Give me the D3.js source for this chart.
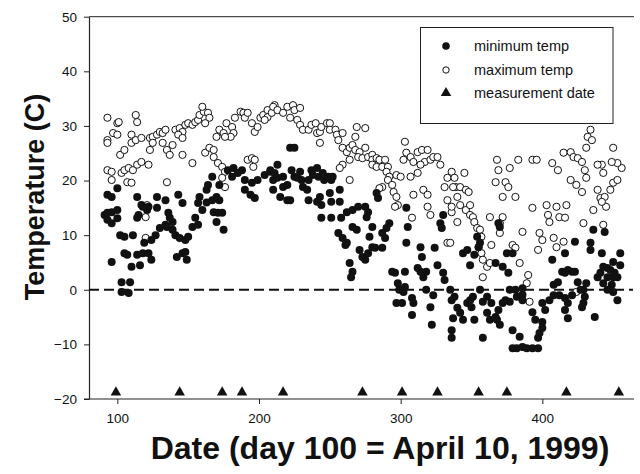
<!DOCTYPE html>
<html>
<head>
<meta charset="utf-8">
<script src="https://cdn.jsdelivr.net/npm/d3@7"></script>
<style>
  html, body { margin: 0; padding: 0; background: #fff; }
  svg { display: block; font-family: "Liberation Sans", Arial, sans-serif; }
</style>
</head>
<body>
<div id="app"></div>
<script>
// [day, temperature C]
const minTemp = [
  [93,17.4],[96,17.0],[100,18.6],[91,13.7],[93,14.1],[96,14.2],[100,14.6],[93,12.8],[96,12.2],[100,13.1],
  [96,5.1],[102,10.0],[105,9.7],[111,10.0],[103,1.4],[109,1.4],[103,-0.4],[108,-0.6],[105,6.7],[107,6.4],
  [110,4.2],[116,4.5],[114,6.4],[118,6.7],[122,6.7],[124,5.5],[114,13.2],[115,13.7],[118,15.2],[121,14.6],
  [114,17.0],[117,15.5],[119,8.6],[124,9.1],[127,10.0],[130,11.3],[134,11.9],[139,12.4],[122,15.2],[128,17.0],
  [134,16.4],[128,15.0],[136,14.1],[137,13.2],[135,11.5],[139,11.0],[141,10.0],[144,9.5],[148,9.1],[142,6.0],
  [148,6.9],[149,5.5],[146,6.7],[143,17.4],[146,15.9],[150,9.7],[153,11.5],[157,11.9],[155,13.2],[157,15.9],
  [160,14.6],[158,17.0],[163,18.3],[164,19.2],[163,16.0],[167,16.4],[170,17.0],[172,16.4],[168,14.2],[171,14.1],
  [174,14.1],[170,12.4],[175,11.0],[167,20.7],[172,19.2],[178,21.9],[182,22.3],[181,20.7],[185,21.4],[188,21.9],
  [190,20.1],[195,19.6],[199,20.1],[204,21.0],[208,21.6],[210,20.1],[190,18.3],[194,17.4],[197,16.8],
  [222,26.0],[225,26.0],[208,21.9],[213,22.9],[211,21.4],[213,20.5],[217,20.7],[210,18.3],[215,17.0],[220,16.4],
  [222,16.4],[217,18.8],[220,19.2],[223,21.9],[225,20.7],[229,21.6],[230,20.1],[231,18.8],[234,18.3],[227,20.5],
  [235,20.1],[237,21.9],[238,21.0],[241,22.3],[242,20.7],[245,21.4],[246,20.1],[249,20.7],[251,20.1],[252,20.7],
  [235,16.4],[241,16.1],[243,17.0],[244,15.5],[250,17.7],[251,16.1],[257,18.3],[244,13.2],[251,13.2],[258,13.2],
  [257,16.1],[262,14.2],[266,14.6],[270,15.2],[256,10.4],[259,9.5],[261,8.2],[262,8.6],[266,11.5],[269,11.0],
  [264,4.9],[266,3.3],[265,2.3],[271,7.3],[273,6.0],[277,6.7],[275,5.5],[275,15.2],[277,14.2],[276,13.3],
  [278,9.7],[280,7.8],[282,7.7],[280,11.5],[284,16.8],[283,17.7],[287,10.4],[289,9.5],[290,11.3],[292,12.2],
  [287,7.7],[294,3.3],[296,3.1],[298,1.2],[299,0],[302,-0.4],[303,0.5],[297,-2.4],[301,-2.4],[308,-1.5],
  [309,-2.4],[303,3.3],[304,15.0],[305,11.5],[304,8.6],[308,-4.6],[312,4.0],[314,3.3],[316,2.3],[318,3.3],
  [315,6.0],[314,7.8],[321,-3.2],[322,-6.4],[318,0],[323,-1.0],[324,7.7],[326,4.5],[330,3.1],[331,1.8],
  [330,13.7],[328,12.2],[329,11.3],[336,-1.9],[338,-1.3],[337,-5.2],[336,-7.4],[336,-8.8],[335,0],[340,-3.3],
  [342,-4.2],[344,-5.5],[347,-2.4],[349,-1.9],[351,-1.3],[352,-5.5],[350,-3.2],[344,6.7],[347,7.3],[352,6.4],
  [349,4.5],[355,7.8],[356,0],[354,9.7],[356,8.6],[358,-2.2],[361,-1.3],[364,-2.4],[361,-4.2],[363,-5.5],
  [367,-5.0],[369,-3.7],[372,-2.4],[374,-1.9],[377,-2.2],[358,-8.8],[368,-5.5],[370,-6.4],[367,4.9],[372,4.2],
  [376,3.1],[375,6.7],[379,6.7],[369,12.2],[370,11.5],[377,0],[381,0],[382,-1.3],[386,-0.9],[386,-1.9],
  [379,-7.4],[384,-8.6],[379,-10.7],[382,-10.7],[386,-10.5],[389,-10.7],[393,-10.7],[397,-10.7],[397,-8.8],[398,-7.9],
  [393,-4.1],[395,-5.5],[400,-5.9],[400,-7.0],[386,0.3],[400,-2.4],[402,-3.7],[405,-1.9],[408,-1.0],[412,-1.0],
  [416,-1.5],[418,-2.4],[421,-1.0],[416,-3.7],[418,-5.2],[407,5.5],[408,0.9],[411,1.4],[414,3.3],[416,3.1],
  [418,3.6],[421,3.3],[423,3.3],[425,1.4],[416,6.7],[423,8.8],[434,8.6],[434,7.3],[436,11.0],[444,10.6],
  [442,6.7],[446,4.0],[427,0],[429,0],[431,1.2],[430,-1.3],[429,-2.4],[428,-3.2],[437,-5.0],[439,2.3],
  [441,3.1],[443,1.2],[443,4.2],[446,2.3],[448,3.6],[450,2.3],[453,2.3],[455,4.5],[450,5.1],[451,3.1],
  [449,0.9],[446,0],[450,-0.4],[453,-1.9],[455,6.7]
];

const maxTemp = [
  [93,31.5],[100,30.5],[101,30.7],[97,28.7],[100,28.4],[93,27.4],[93,26.9],[93,21.9],[96,21.6],[96,20.1],
  [113,32.0],[114,30.7],[103,21.4],[105,21.9],[108,22.3],[111,21.9],[107,19.7],[110,19.6],[102,24.7],[105,25.6],
  [110,26.9],[110,28.4],[113,27.4],[117,27.8],[114,22.9],[117,23.4],[122,22.9],[123,27.8],[125,28.0],[128,28.4],
  [130,28.9],[132,28.7],[134,29.3],[125,26.9],[123,25.6],[135,25.6],[137,24.7],[132,26.9],[139,26.5],[135,19.7],
  [121,15.5],[120,13.3],[120,9.5],[141,29.3],[144,29.6],[146,28.9],[143,28.4],[148,30.2],[150,30.5],[153,30.2],
  [155,30.7],[157,31.1],[158,32.0],[161,32.6],[160,33.5],[164,32.4],[165,31.5],[162,30.5],[146,27.8],[146,24.7],
  [153,23.2],[162,25.1],[165,26.0],[168,25.6],[168,24.3],[171,23.2],[174,22.5],[176,21.6],[174,20.5],[176,18.8],
  [192,23.8],[195,24.1],[197,23.8],[196,22.5],[172,29.3],[175,28.7],[177,30.5],[181,29.8],[182,28.7],[180,28.0],
  [176,28.0],[170,28.0],[183,31.5],[187,32.6],[189,32.4],[190,31.5],[192,32.4],[195,30.5],[197,28.9],[199,29.8],
  [201,31.5],[203,32.0],[206,32.9],[206,31.6],[209,32.4],[211,33.8],[204,31.1],
  [210,33.5],[213,32.9],[217,32.4],[220,33.5],[224,33.8],[225,32.9],[229,33.3],[222,31.5],[227,31.1],[229,30.2],
  [231,29.3],[235,29.3],[237,30.2],[240,30.5],[241,28.7],[243,28.9],[244,29.8],[248,30.5],[250,30.5],[250,29.3],
  [254,29.3],[255,28.4],[259,28.7],[256,27.4],[259,26.0],[262,25.2],[264,26.0],[268,28.0],[275,29.6],[269,29.8],
  [243,26.9],[266,26.5],[268,25.6],[271,25.2],[275,26.0],[270,24.3],[273,24.1],[277,24.3],[280,24.7],[280,23.8],
  [283,24.1],[285,23.8],[289,23.8],[280,22.9],[283,22.5],[287,22.5],[291,22.5],[290,21.6],[292,20.7],[297,21.0],
  [300,20.7],[291,20.1],[294,19.2],[287,18.8],[285,18.6],[295,17.9],[297,17.0],[298,15.5],[296,15.2],[259,22.9],
  [264,23.8],[257,22.3],[264,20.1],[303,27.1],[304,25.1],[302,23.8],[307,24.3],[309,23.4],[312,25.2],[315,25.6],
  [319,25.6],[317,23.4],[314,22.9],[321,23.8],[323,24.3],[326,24.3],[328,22.9],[312,21.4],[307,20.7],[309,17.4],
  [316,18.3],[319,17.4],[319,15.2],[321,13.7],[333,20.5],[336,21.6],[338,20.5],[331,18.8],[333,16.4],[336,14.2],
  [339,18.8],[340,12.4],[333,8.6],[308,13.2],
  [345,21.4],[337,18.8],[342,18.8],[346,18.3],[348,17.9],[340,17.0],[342,15.5],[346,14.6],[349,15.5],[349,13.7],
  [351,13.3],[352,12.4],[354,11.3],[356,11.0],[357,9.7],[355,7.8],[357,6.7],[358,5.5],[361,4.2],[363,4.9],
  [358,2.3],[336,15.2],[335,8.6],[368,23.8],[369,21.9],[377,22.3],[367,19.7],[374,19.7],[376,18.8],[381,17.0],
  [372,17.0],[363,13.3],[372,13.3],[370,12.2],[370,10.4],[386,10.6],[379,8.2],[381,7.7],[364,8.2],[384,4.9],
  [390,2.7],[389,1.2],[391,-2.2],[424,-0.4],[383,23.8],[393,23.8],[396,23.8],[393,15.0],[403,15.5],[410,15.2],
  [417,15.5],[404,13.7],[405,12.4],[412,13.3],[416,13.2],[429,12.2],[398,10.4],[400,9.1],[397,7.3],[408,9.5],
  [410,7.8],[415,8.8],[407,23.2],[411,21.9],[415,25.1],[420,25.2],[422,24.3],[425,24.1],[428,23.4],[430,21.9],
  [420,20.1],[424,19.2],[428,17.9],[431,20.5],[439,18.3],[441,16.8],[444,17.0],[445,15.2],[448,18.3],[450,19.6],
  [453,20.1],[456,22.3],[453,23.2],[449,23.4],[450,26.0],[442,22.9],[443,21.4],[439,22.9],[442,16.1],[436,14.6],
  [443,11.9],[432,28.0],[434,29.3],[435,27.4],[431,26.0]
];

const measureDays = [99, 144, 174, 188, 217, 273, 301, 326, 355, 375, 417, 454];
const measureLevel = -18.8;

const xTicks = [100, 200, 300, 400];
const yTicks = [-20, -10, 0, 10, 20, 30, 40, 50];

const legendItems = ["minimum temp", "maximum temp", "measurement date"];

const width = 640, height = 474;
const plot = { left: 89, right: 633, top: 16.7, bottom: 399 };

const svg = d3.select("#app").append("svg")
  .attr("width", width)
  .attr("height", height);

const x = d3.scaleLinear().domain([80, 464]).range([plot.left, plot.right]);
const y = d3.scaleLinear().domain([-20, 50]).range([plot.bottom, plot.top]);

// frame: top line + bottom line
svg.append("line")
  .attr("x1", plot.left).attr("x2", plot.right + 1)
  .attr("y1", plot.top).attr("y2", plot.top)
  .attr("stroke", "#222").attr("stroke-width", 1);

const xAxis = svg.append("g")
  .attr("transform", `translate(0,${plot.bottom})`)
  .call(d3.axisBottom(x).tickValues(xTicks).tickSize(5).tickPadding(9).tickSizeOuter(0));
xAxis.select(".domain").remove();
svg.append("line")
  .attr("x1", plot.left - 5).attr("x2", plot.right + 1)
  .attr("y1", plot.bottom).attr("y2", plot.bottom)
  .attr("stroke", "#222").attr("stroke-width", 1.2);

const yAxis = svg.append("g")
  .attr("transform", `translate(${plot.left},0)`)
  .call(d3.axisLeft(y).tickValues(yTicks).tickSize(5).tickPadding(7).tickSizeOuter(0));
yAxis.select(".domain").attr("stroke", "#222").attr("stroke-width", 1.2);

svg.selectAll(".tick line").attr("stroke", "#222");
svg.selectAll(".tick text")
  .attr("font-size", 13.5)
  .attr("fill", "#111");

// zero line
svg.append("line")
  .attr("x1", plot.left).attr("x2", plot.right)
  .attr("y1", y(0)).attr("y2", y(0))
  .attr("stroke", "#111")
  .attr("stroke-width", 2)
  .attr("stroke-dasharray", "10,5");

// max temp (open)
svg.append("g")
  .selectAll("circle")
  .data(maxTemp)
  .join("circle")
    .attr("cx", d => x(d[0]))
    .attr("cy", d => y(d[1]))
    .attr("r", 3.6)
    .attr("fill", "#fff")
    .attr("stroke", "#111")
    .attr("stroke-width", 1);

// min temp (filled)
svg.append("g")
  .selectAll("circle")
  .data(minTemp)
  .join("circle")
    .attr("cx", d => x(d[0]))
    .attr("cy", d => y(d[1]))
    .attr("r", 4)
    .attr("fill", "#111");

// measurement dates
const tri = d3.symbol().type(d3.symbolTriangle).size(48);
svg.append("g")
  .selectAll("path")
  .data(measureDays)
  .join("path")
    .attr("d", tri)
    .attr("transform", d => `translate(${x(d)},${y(measureLevel)})`)
    .attr("fill", "#111");

// legend
const lg = svg.append("g");
lg.append("rect")
  .attr("x", 420.5).attr("y", 27.5)
  .attr("width", 192.5).attr("height", 96)
  .attr("fill", "#fff")
  .attr("stroke", "#222");
const rowY = [46, 70, 93];
lg.append("circle").attr("cx", 446).attr("cy", rowY[0]).attr("r", 3.8).attr("fill", "#111");
lg.append("circle").attr("cx", 446).attr("cy", rowY[1]).attr("r", 3.2)
  .attr("fill", "#fff").attr("stroke", "#111");
lg.append("path").attr("d", tri).attr("transform", `translate(446,${rowY[2]})`).attr("fill", "#111");
lg.selectAll("text.lab")
  .data(legendItems)
  .join("text")
    .attr("class", "lab")
    .attr("x", 474)
    .attr("y", (d, i) => rowY[i] + 5)
    .attr("font-size", 14.5)
    .attr("fill", "#111")
    .text(d => d);

// axis titles
svg.append("text")
  .attr("transform", "translate(44,197) rotate(-90)")
  .attr("text-anchor", "middle")
  .attr("font-size", 27)
  .attr("font-weight", "bold")
  .attr("fill", "#111")
  .text("Temperature (C)");

svg.append("text")
  .attr("x", 380).attr("y", 459)
  .attr("text-anchor", "middle")
  .attr("font-size", 32)
  .attr("font-weight", "bold")
  .attr("fill", "#111")
  .text("Date (day 100 = April 10, 1999)");
</script>
</body>
</html>
